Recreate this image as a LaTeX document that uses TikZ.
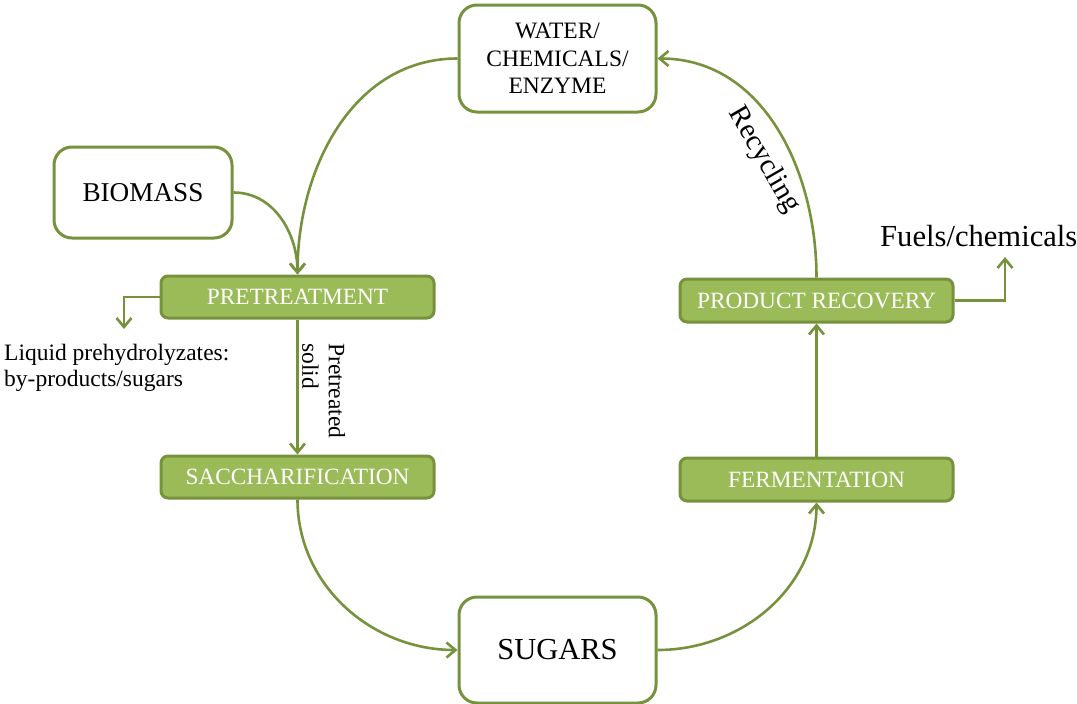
\documentclass[tikz,border=0pt]{standalone}
\usepackage{fontspec}
\setmainfont{Liberation Serif}
\usetikzlibrary{arrows.meta}
\definecolor{oliveline}{HTML}{76923C}
\definecolor{olivefill}{HTML}{9BBB59}
\begin{document}
\begin{tikzpicture}[x=1pt,y=-1pt,
  whitebox/.style={draw=oliveline,line width=3pt,fill=white,rounded corners=18pt,align=center,inner sep=0pt},
  greenbox/.style={draw=oliveline,line width=3pt,fill=olivefill,rounded corners=7pt,text=white,minimum width=273pt,inner sep=0pt,font=\fontsize{23.3}{26}\selectfont},
  conn/.style={draw=oliveline,line width=2.6pt,-{Straight Barb[length=9pt,width=15pt,line width=2.6pt]}},
  lbl/.style={font=\fontsize{23.5}{26.5}\selectfont,inner sep=0pt}]
\useasboundingbox (0,0) rectangle (1077,704);
\node[whitebox,minimum width=197pt,minimum height=107pt,font=\fontsize{23.5}{27.5}\selectfont] (water) at (557.5,58.5) {WATER/\\CHEMICALS/\\ENZYME};
\node[whitebox,minimum width=178pt,minimum height=91pt,font=\fontsize{27.2}{30}\selectfont] (bio) at (143,192.5) {BIOMASS};
\node[whitebox,minimum width=197pt,minimum height=106pt,font=\fontsize{30.5}{34}\selectfont] (sugars) at (557.5,650) {SUGARS};
\node[greenbox,minimum height=42pt] (pre) at (297.5,297) {PRETREATMENT};
\node[greenbox,minimum height=42pt] (sac) at (297.5,477) {SACCHARIFICATION};
\node[greenbox,minimum height=43pt] (ferm) at (816.5,479.5) {FERMENTATION};
\node[greenbox,minimum height=43pt] (prod) at (816.5,300.5) {PRODUCT RECOVERY};
\node[font=\fontsize{30.6}{34}\selectfont,anchor=west,inner sep=0pt] (fuels) at (880,236) {Fuels/chemicals};
\node[lbl,align=left,anchor=west] (liq) at (4,368) {Liquid prehydrolyzates:\\by-products/sugars};
\node[lbl,align=left,rotate=-90,anchor=south west] (ptsolid) at (302,343) {Pretreated\\solid};
\node[lbl,rotate=-60,font=\fontsize{29}{30}\selectfont] (recyc) at (764,160) {Recycling};
\coordinate (liqend) at (124,329);
\coordinate (fuelend) at (1005,257);
\draw[conn] (water.west) to[out=180,in=90] (pre.north);
\draw[conn] (bio.east) to[out=0,in=90] (pre.north);
\draw[conn] (pre.west) -| (liqend);
\draw[conn] (pre.south) -- (sac.north);
\draw[conn] (sac.south) to[out=-90,in=180] (sugars.west);
\draw[conn] (sugars.east) to[out=0,in=-90] (ferm.south);
\draw[conn] (ferm.north) -- (prod.south);
\draw[conn] (prod.north) to[out=90,in=0] (water.east);
\draw[conn] (prod.east) -| (fuelend);
\end{tikzpicture}
\end{document}
